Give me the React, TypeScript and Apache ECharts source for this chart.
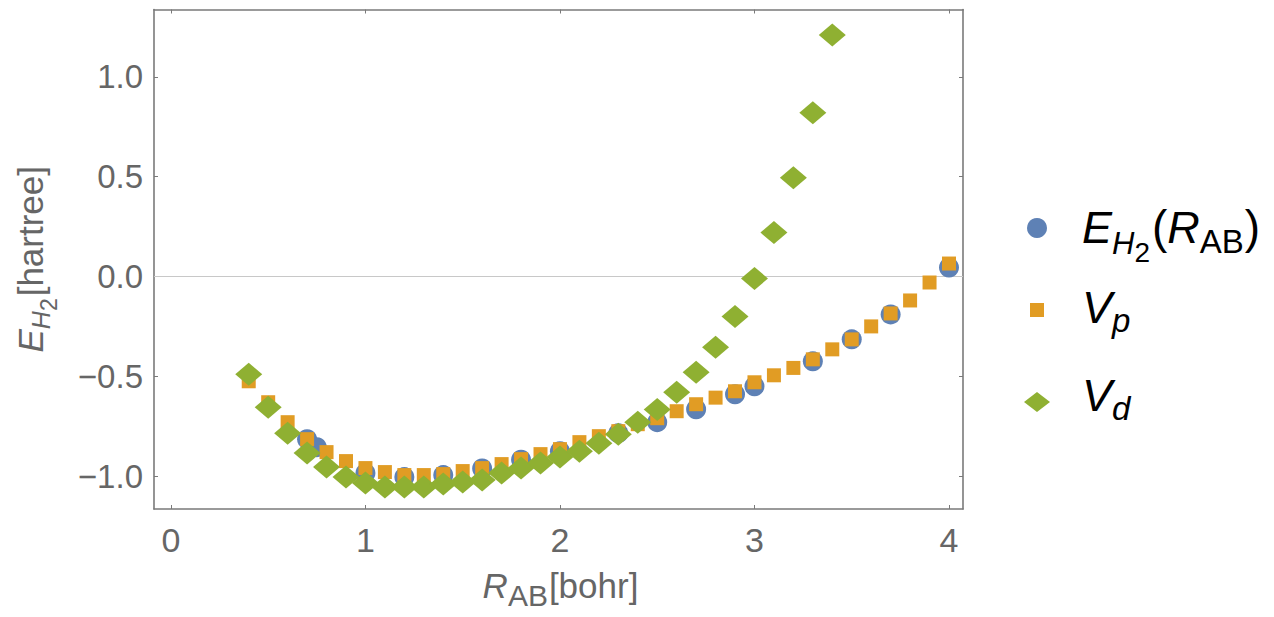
import React, { useEffect, useRef } from "react";
import * as echarts from "echarts";

// ---------- data ----------
const rE = [0.7, 0.75, 1.0, 1.2, 1.4, 1.6, 1.8, 2.0, 2.3, 2.5, 2.7, 2.9, 3.0, 3.3, 3.5, 3.7, 4.0];
const eH2 = [-0.815, -0.855, -0.985, -1.005, -0.995, -0.962, -0.918, -0.875, -0.785, -0.73, -0.665, -0.59, -0.55, -0.425, -0.315, -0.19, 0.045];

const rVp = [0.4, 0.5, 0.6, 0.7, 0.8, 0.9, 1.0, 1.1, 1.2, 1.3, 1.4, 1.5, 1.6, 1.7, 1.8, 1.9, 2.0, 2.1, 2.2, 2.3, 2.4, 2.5, 2.6, 2.7, 2.8, 2.9, 3.0, 3.1, 3.2, 3.3, 3.4, 3.5, 3.6, 3.7, 3.8, 3.9, 4.0];
const vp = [-0.525, -0.63, -0.73, -0.815, -0.88, -0.925, -0.96, -0.98, -0.995, -0.995, -0.99, -0.975, -0.96, -0.94, -0.915, -0.89, -0.865, -0.83, -0.8, -0.775, -0.74, -0.71, -0.675, -0.64, -0.607, -0.575, -0.53, -0.495, -0.458, -0.415, -0.365, -0.315, -0.25, -0.185, -0.12, -0.03, 0.065];

const rVd = [0.4, 0.5, 0.6, 0.7, 0.8, 0.9, 1.0, 1.1, 1.2, 1.3, 1.4, 1.5, 1.6, 1.7, 1.8, 1.9, 2.0, 2.1, 2.2, 2.3, 2.4, 2.5, 2.6, 2.7, 2.8, 2.9, 3.0, 3.1, 3.2, 3.3, 3.4];
const vd = [-0.49, -0.655, -0.785, -0.885, -0.955, -1.005, -1.035, -1.055, -1.055, -1.055, -1.04, -1.03, -1.02, -0.985, -0.96, -0.935, -0.905, -0.875, -0.835, -0.79, -0.73, -0.666, -0.58, -0.48, -0.355, -0.2, -0.01, 0.22, 0.495, 0.82, 1.21];

const xTicks = [0, 1, 2, 3, 4];
const yTicks = [-1.0, -0.5, 0.0, 0.5, 1.0];
const zeroLineY = [0, 0];

const X_MIN = -0.087;
const X_MAX = 4.072;
const Y_MIN = -1.165;
const Y_MAX = 1.338;

// ---------- styles ----------
const FONT = "'Liberation Sans', Arial, Helvetica, sans-serif";
const BLUE = "#5E81B5";
const ORANGE = "#E19C24";
const GREEN = "#8FB032";
const FRAME = "#7a7a7a";
const AXIS_TEXT = "#666666";

type Run = { text: string; size: number; italic?: boolean; dy?: number; dx?: number };

let measureCtx: CanvasRenderingContext2D | null = null;
function measure(text: string, size: number, italic?: boolean): number {
  if (!measureCtx) measureCtx = document.createElement("canvas").getContext("2d");
  if (!measureCtx) return text.length * size * 0.55;
  measureCtx.font = `${italic ? "italic " : ""}${size}px ${FONT}`;
  return measureCtx.measureText(text).width;
}
function runsWidth(runs: Run[]): number {
  return runs.reduce((s, r) => s + (r.dx || 0) + measure(r.text, r.size, r.italic), 0);
}
function runsToTexts(runs: Run[], x0: number, baseline: number, color: string): any[] {
  let x = x0;
  return runs.map((r) => {
    x += r.dx || 0;
    const el = {
      type: "text",
      x,
      y: baseline + (r.dy || 0) - 0.3465 * r.size,
      silent: true,
      style: {
        text: r.text,
        fontSize: r.size,
        fontStyle: r.italic ? "italic" : "normal",
        fontFamily: FONT,
        fill: color,
        align: "left",
        verticalAlign: "middle",
        textAlign: "left",
        textVerticalAlign: "middle",
      },
    };
    x += measure(r.text, r.size, r.italic);
    return el;
  });
}

const fmtY = (v: number) => (v < 0 ? "\u2212" + Math.abs(v).toFixed(1) : v.toFixed(1));

export default function App() {
  const ref = useRef<HTMLDivElement>(null);
  useEffect(() => {
    if (!ref.current) return;
    const chart = echarts.init(ref.current, undefined, { renderer: "svg" });

    const gridLeft = 154, gridTop = 9.5, gridW = 809, gridH = 499.5;

    // axis titles
    const xTitleRuns: Run[] = [
      { text: "R", size: 35, italic: true },
      { text: "AB", size: 30, dy: 8 },
      { text: "[bohr]", size: 35, dx: 1 },
    ];
    const xTitleW = runsWidth(xTitleRuns);
    const xTitle = runsToTexts(xTitleRuns, gridLeft + gridW / 2 - xTitleW / 2 + 2, 598, AXIS_TEXT);

    const yTitleRuns: Run[] = [
      { text: "E", size: 35, italic: true },
      { text: "H", size: 25, italic: true, dy: 7 },
      { text: "2", size: 23, dy: 14 },
      { text: "[hartree]", size: 35, dx: 2 },
    ];
    const yTitleW = runsWidth(yTitleRuns);
    const yTitle = {
      type: "group",
      x: 43,
      y: gridTop + gridH / 2 + yTitleW / 2,
      rotation: Math.PI / 2,
      children: runsToTexts(yTitleRuns, 0, 0, AXIS_TEXT),
    };

    // legend
    const legX = 1037, legTextX = 1082;
    const legend1 = runsToTexts(
      [
        { text: "E", size: 45, italic: true },
        { text: "H", size: 31, italic: true, dy: 11 },
        { text: "2", size: 28, dy: 19 },
        { text: "(", size: 46, dx: 2 },
        { text: "R", size: 45, italic: true },
        { text: "AB", size: 33, dy: 10 },
        { text: ")", size: 46, dx: 1 },
      ],
      legTextX, 243, "#000"
    );
    const legend2 = runsToTexts(
      [
        { text: "V", size: 45, italic: true },
        { text: "p", size: 33, italic: true, dy: 9 },
      ],
      legTextX, 323, "#000"
    );
    const legend3 = runsToTexts(
      [
        { text: "V", size: 45, italic: true },
        { text: "d", size: 33, italic: true, dy: 9 },
      ],
      legTextX, 411, "#000"
    );

    const option: any = {
      animation: false,
      backgroundColor: "#ffffff",
      grid: { left: gridLeft, top: gridTop, width: gridW, height: gridH },
      xAxis: [
        {
          type: "value",
          min: X_MIN,
          max: X_MAX,
          position: "bottom",
          axisLine: { show: true, onZero: false, lineStyle: { color: FRAME, width: 1.6 } },
          axisTick: { show: true, inside: true, length: 4, customValues: xTicks, lineStyle: { color: FRAME } },
          axisLabel: {
            customValues: xTicks,
            fontSize: 34,
            fontFamily: FONT,
            color: AXIS_TEXT,
            margin: 14,
            formatter: (v: number) => String(v),
          },
          splitLine: { show: false },
        },
        {
          type: "value",
          min: X_MIN,
          max: X_MAX,
          position: "top",
          axisLine: { show: true, onZero: false, lineStyle: { color: FRAME, width: 1.6 } },
          axisTick: { show: true, inside: true, length: 4, customValues: xTicks, lineStyle: { color: FRAME } },
          axisLabel: { show: false },
          splitLine: { show: false },
        },
      ],
      yAxis: [
        {
          type: "value",
          min: Y_MIN,
          max: Y_MAX,
          position: "left",
          axisLine: { show: true, onZero: false, lineStyle: { color: FRAME, width: 1.6 } },
          axisTick: { show: true, inside: true, length: 4, customValues: yTicks, lineStyle: { color: FRAME } },
          axisLabel: {
            customValues: yTicks,
            fontSize: 33,
            fontFamily: FONT,
            color: AXIS_TEXT,
            margin: 11,
            formatter: fmtY,
          },
          splitLine: { show: false },
        },
        {
          type: "value",
          min: Y_MIN,
          max: Y_MAX,
          position: "right",
          axisLine: { show: true, onZero: false, lineStyle: { color: FRAME, width: 1.6 } },
          axisTick: { show: true, inside: true, length: 4, customValues: yTicks, lineStyle: { color: FRAME } },
          axisLabel: { show: false },
          splitLine: { show: false },
        },
      ],
      series: [
        {
          type: "line",
          z: 1,
          silent: true,
          symbol: "none",
          lineStyle: { color: "#c8c8c8", width: 1 },
          data: [
            [X_MIN, zeroLineY[0]],
            [X_MAX, zeroLineY[1]],
          ],
        },
        {
          name: "E",
          type: "scatter",
          z: 2,
          symbol: "circle",
          symbolSize: 20,
          itemStyle: { color: BLUE, opacity: 1 },
          data: rE.map((r, i) => [r, eH2[i]]),
        },
        {
          name: "Vp",
          type: "scatter",
          z: 3,
          symbol: "rect",
          symbolSize: 14,
          itemStyle: { color: ORANGE, opacity: 1 },
          data: rVp.map((r, i) => [r, vp[i]]),
        },
        {
          name: "Vd",
          type: "scatter",
          z: 4,
          symbol: "diamond",
          symbolSize: [27, 23],
          itemStyle: { color: GREEN, opacity: 1 },
          data: rVd.map((r, i) => [r, vd[i]]),
        },
      ],
      graphic: [
        ...xTitle,
        yTitle,
        { type: "circle", silent: true, shape: { cx: legX, cy: 228, r: 10 }, style: { fill: BLUE } },
        { type: "rect", silent: true, shape: { x: legX - 7, y: 303, width: 14, height: 14 }, style: { fill: ORANGE } },
        {
          type: "polygon",
          silent: true,
          shape: { points: [[legX - 13, 402], [legX, 392], [legX + 13, 402], [legX, 412]] },
          style: { fill: GREEN },
        },
        ...legend1,
        ...legend2,
        ...legend3,
      ],
    };
    chart.setOption(option);
    return () => chart.dispose();
  }, []);

  return (
    <div
      ref={ref}
      style={{ position: "fixed", left: 0, top: 0, width: 1274, height: 617, background: "#fff" }}
    />
  );
}
